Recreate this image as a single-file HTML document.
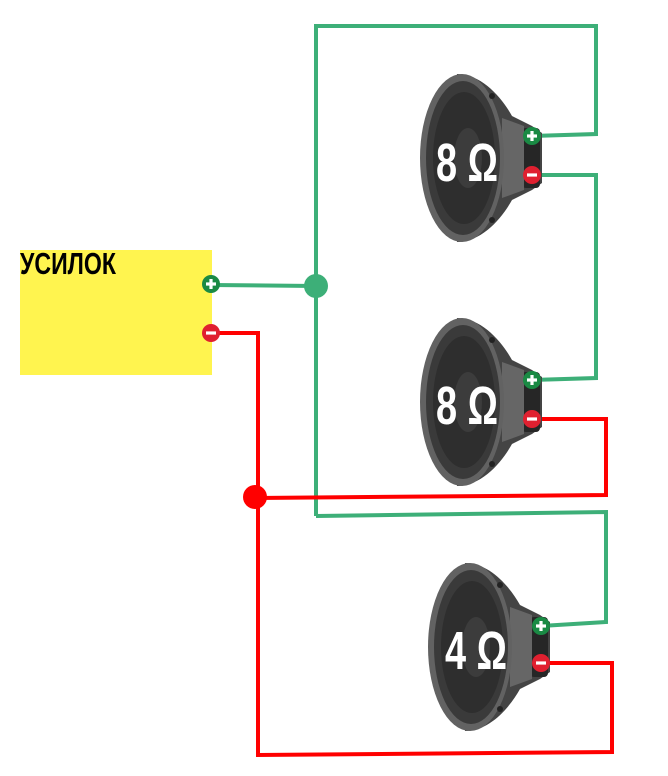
<!DOCTYPE html>
<html><head><meta charset="utf-8"><style>html,body{margin:0;padding:0;background:#fff}svg{display:block}</style></head>
<body>
<svg width="668" height="776" viewBox="0 0 668 776" xmlns="http://www.w3.org/2000/svg">
<defs>
<g id="spk">
<path d="M-5,-84 C20,-84 40,-60 50,-42 L70,-32 L80,-25 L80,25 L70,32 L50,42 C40,60 20,84 -5,84 Z" fill="#444"/>
<rect x="60" y="-30" width="18" height="60" rx="4" fill="#262626"/>
<path d="M40,-40 L62,-32 L62,32 L40,40 Z" fill="#666"/>
<ellipse cx="0" cy="0" rx="42" ry="84" fill="#626262"/>
<ellipse cx="1" cy="0" rx="37" ry="77" fill="#3a3a3a"/>
<ellipse cx="2" cy="0" rx="31" ry="66" fill="#2e2e2e"/>
<ellipse cx="6" cy="0" rx="14" ry="30" fill="#3c3c3c"/>
<circle cx="30" cy="-62" r="3" fill="#222"/>
<circle cx="30" cy="62" r="3" fill="#222"/>
</g>
<g id="plus"><circle r="9" fill="#1a8a44"/><rect x="-5" y="-1.6" width="10" height="3.2" fill="#fff"/><rect x="-1.6" y="-5" width="3.2" height="10" fill="#fff"/></g>
<g id="minus"><circle r="9" fill="#e02030"/><rect x="-5" y="-1.6" width="10" height="3.2" fill="#fff"/></g>
</defs>
<rect x="20" y="250" width="192" height="125" fill="#fff44f"/>
<text x="20" y="274" font-family="Liberation Sans, sans-serif" font-weight="bold" font-size="31" textLength="96" lengthAdjust="spacingAndGlyphs" fill="#000">УСИЛОК</text>

<g fill="none" stroke-width="4" stroke-linejoin="miter">
<polyline stroke="#3daf78" points="211,285 316,286"/>
<polyline stroke="#3daf78" points="316,516 316,26 596,26 596,134 532,136"/>
<polyline stroke="#3daf78" points="532,175 596,175 596,378 532,380"/>
<polyline stroke="#3daf78" points="316,516 606,512 606,622 541,626"/>
<polyline stroke="#f00" points="211,333 258,333 258,755 612,752 612,663 541,663"/>
<polyline stroke="#f00" points="533,419 606,419 606,495 256,498"/>
</g>
<circle cx="316" cy="286" r="12" fill="#3daf78"/>
<circle cx="255" cy="497" r="12" fill="#f00"/>

<use href="#spk" x="462" y="158"/>
<use href="#spk" x="462" y="402"/>
<use href="#spk" x="470" y="647"/>
<g font-family="Liberation Sans, sans-serif" font-weight="bold" font-size="54" fill="#fff">
<text x="436" y="181" textLength="62" lengthAdjust="spacingAndGlyphs">8 Ω</text>
<text x="436" y="424" textLength="62" lengthAdjust="spacingAndGlyphs">8 Ω</text>
<text x="445" y="669" textLength="62" lengthAdjust="spacingAndGlyphs">4 Ω</text>
</g>
<use href="#plus" x="532" y="136"/>
<use href="#minus" x="532" y="175"/>
<use href="#plus" x="532" y="380"/>
<use href="#minus" x="532" y="419"/>
<use href="#plus" x="541" y="626"/>
<use href="#minus" x="541" y="663"/>
<use href="#plus" x="211" y="284"/>
<use href="#minus" x="211" y="333"/>
</svg>
</body></html>
